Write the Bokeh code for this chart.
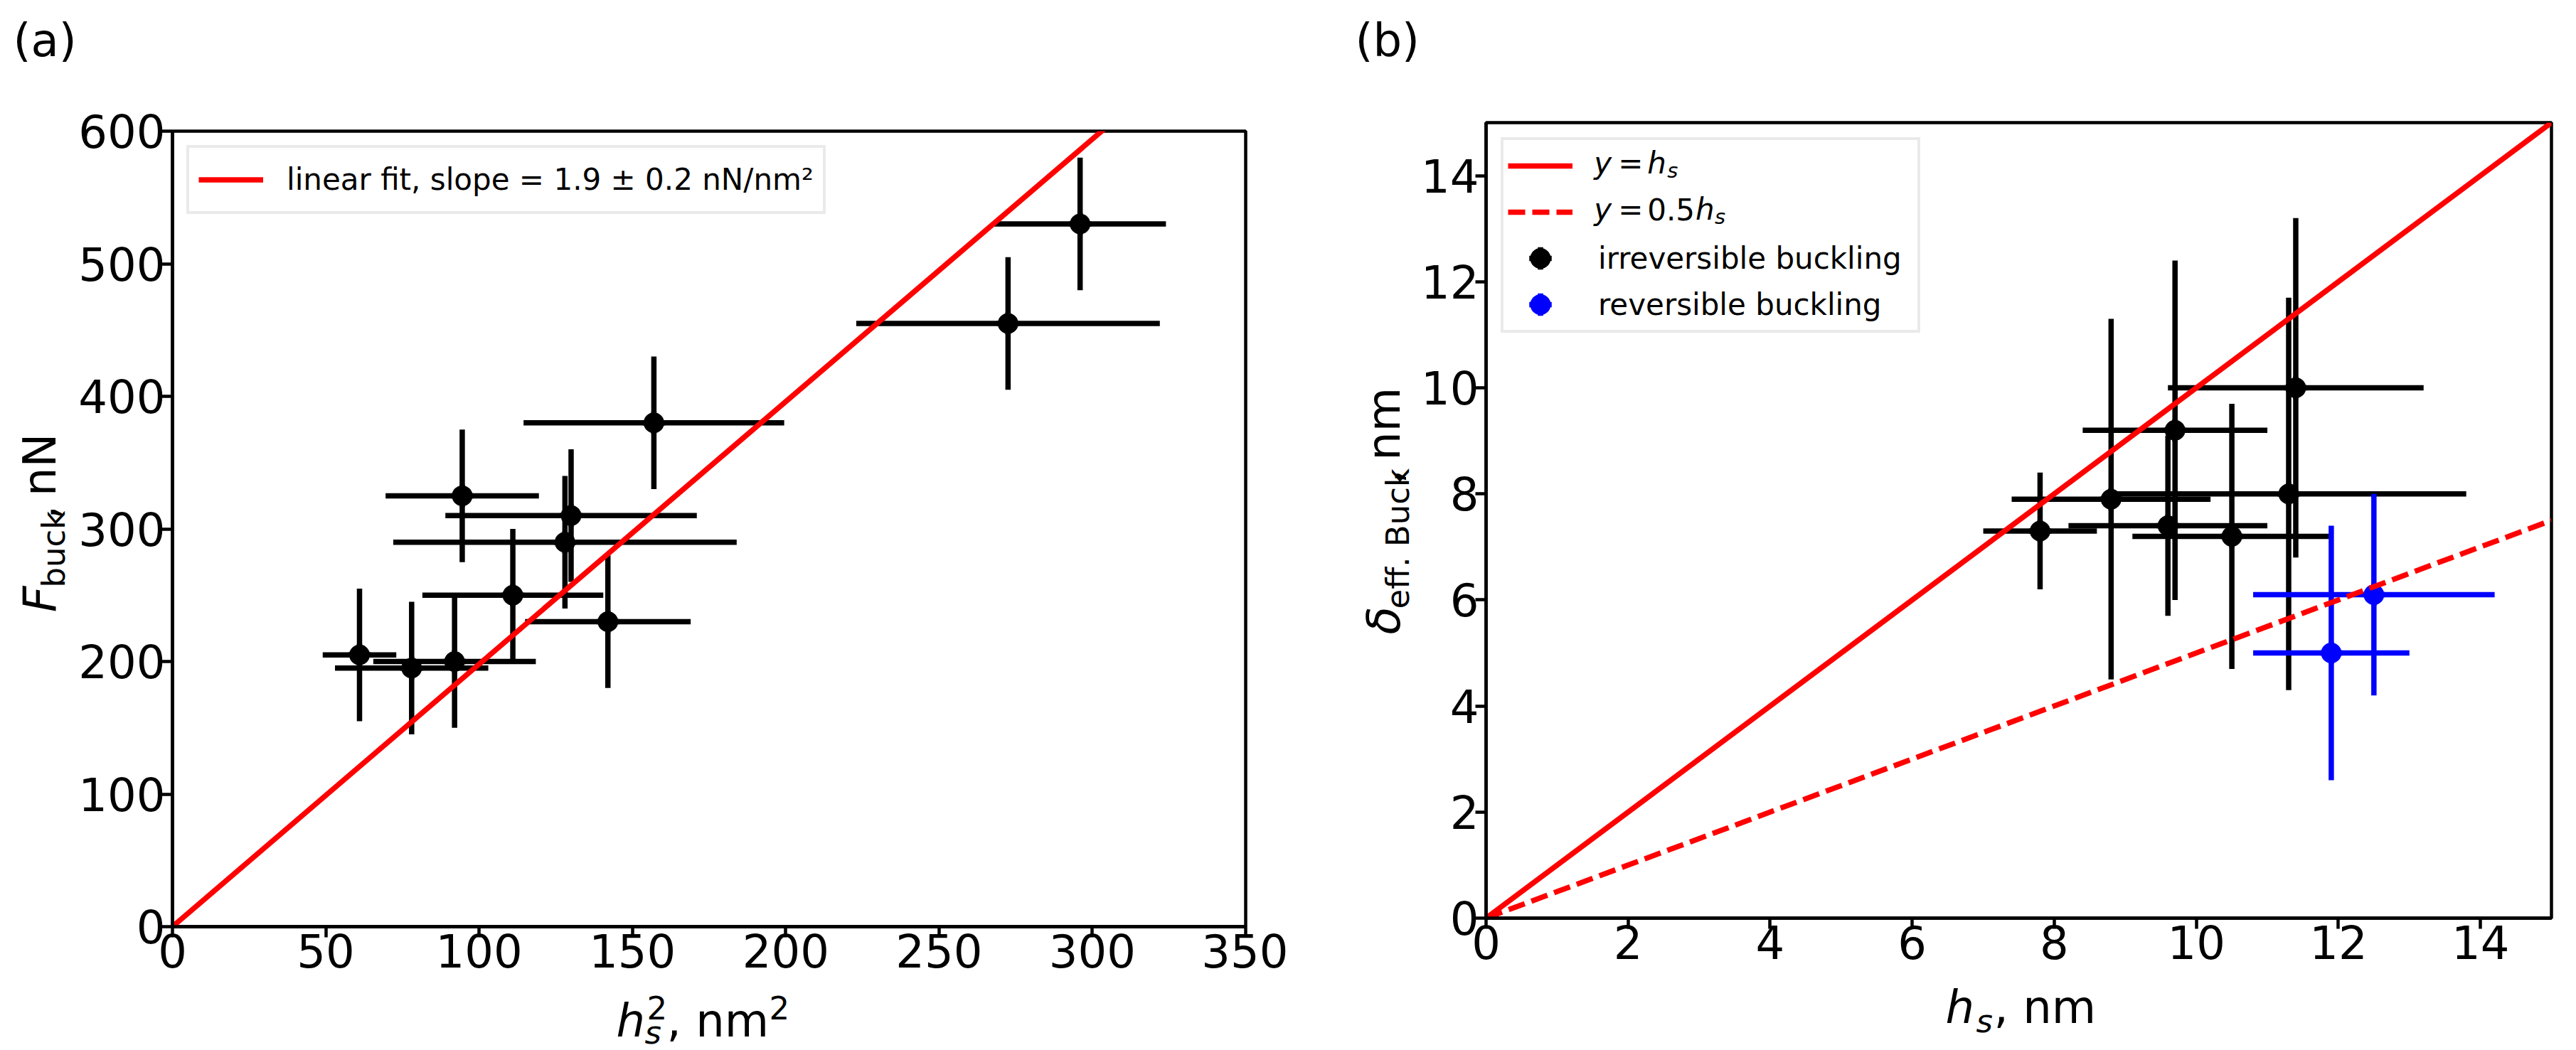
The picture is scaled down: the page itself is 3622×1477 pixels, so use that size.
import numpy as np
from bokeh.plotting import figure
from bokeh.models import Range1d, Legend, LegendItem
from bokeh.core.properties import value
from bokeh.layouts import row, column
from bokeh.embed import file_html
from bokeh.resources import INLINE

# ---------------- Panel (a) data ----------------
hs2 = [61, 78, 92, 111, 142, 128, 130, 94.5, 157, 272.5, 296]
hs2_err = [12, 25, 26.5, 29.5, 27, 56, 41, 25, 42.5, 49.5, 28]
f_buck = [205, 195, 200, 250, 230, 290, 310, 325, 380, 455, 530]
f_buck_err = [50, 50, 50, 50, 50, 50, 50, 50, 50, 50, 50]
fit_slope = 1.98
fit_x = [0, 350]
a_xticks = [0, 50, 100, 150, 200, 250, 300, 350]
a_yticks = [0, 100, 200, 300, 400, 500, 600]
a_legend = "linear fit, slope = 1.9 \u00b1 0.2 nN/nm\u00b2"

# ---------------- Panel (b) data ----------------
hs_irr = [7.8, 8.8, 9.6, 9.7, 10.5, 11.3, 11.4]
hs_irr_err = [0.8, 1.4, 1.4, 1.3, 1.4, 2.5, 1.8]
d_irr = [7.3, 7.9, 7.4, 9.2, 7.2, 8.0, 10.0]
d_irr_err = [1.1, 3.4, 1.7, 3.2, 2.5, 3.7, 3.2]
hs_rev = [11.9, 12.5]
hs_rev_err = [1.1, 1.7]
d_rev = [5.0, 6.1]
d_rev_err = [2.4, 1.9]
ref_x = [0, 15]
b_ticks = [0, 2, 4, 6, 8, 10, 12, 14]

FONT = "DejaVu Sans"
LW = 7.5
BASE_OFF = 0.30   # baseline correction of bokeh text glyphs (fraction of font size)


def make_fig(w, h, bl, br, bt, bb, xr, yr, xt, yt):
    p = figure(width=w, height=h, x_range=Range1d(*xr), y_range=Range1d(*yr),
               output_backend="svg", toolbar_location=None,
               min_border_left=bl, min_border_right=br,
               min_border_top=bt, min_border_bottom=bb)
    p.xgrid.visible = False
    p.ygrid.visible = False
    p.outline_line_color = "black"
    p.outline_line_width = 4.5
    p.outline_line_alpha = 1.0
    p.background_fill_color = "white"
    p.border_fill_color = "white"
    for ax in (p.xaxis[0], p.yaxis[0]):
        ax.axis_line_width = 4.5
        ax.axis_line_color = "black"
        ax.major_tick_line_width = 4.5
        ax.major_tick_line_color = "black"
        ax.major_tick_out = 15
        ax.major_tick_in = 0
        ax.minor_tick_line_color = None
        ax.major_label_text_font = FONT
        ax.major_label_text_font_size = "64px"
        ax.major_label_text_color = "black"
    p.xaxis[0].ticker = xt
    p.yaxis[0].ticker = yt
    p.xaxis[0].major_label_standoff = -5
    p.yaxis[0].major_label_standoff = -5
    return p


def strip(w, h):
    s = figure(width=w, height=h, x_range=Range1d(0, w), y_range=Range1d(0, h),
               output_backend="svg", toolbar_location=None,
               x_axis_location=None, y_axis_location=None,
               min_border=0, min_border_left=0, min_border_right=0,
               min_border_top=0, min_border_bottom=0)
    s.outline_line_color = None
    s.xgrid.visible = False
    s.ygrid.visible = False
    s.background_fill_color = "white"
    s.border_fill_color = "white"
    return s


def put(fig, ox, oy, px, py, txt, size, italic=False, rotated=False):
    # (px, py): page position of the start of the text's baseline
    # ox: page x of the strip's left edge, oy: page y of the strip's bottom edge
    if rotated:
        ax_, ay_ = px - BASE_OFF * size, py
        ang = np.pi / 2
    else:
        ax_, ay_ = px, py - BASE_OFF * size
        ang = 0.0
    fig.text(x=[ax_ - ox], y=[oy - ay_], text=[txt], angle=ang,
             text_font=value(FONT), text_font_size=value(f"{size}px"),
             text_font_style="italic" if italic else "normal",
             text_color="black", text_align="left", text_baseline="alphabetic")


def errorbars(p, x, xe, y, ye, color):
    x = np.array(x, dtype=float)
    xe = np.array(xe, dtype=float)
    y = np.array(y, dtype=float)
    ye = np.array(ye, dtype=float)
    p.segment(x0=x - xe, y0=y, x1=x + xe, y1=y, line_color=color, line_width=LW)
    p.segment(x0=x, y0=y - ye, x1=x, y1=y + ye, line_color=color, line_width=LW)
    cr = p.scatter(x, y, marker="cross", size=24, line_color=color,
                   line_width=LW, line_cap="square")
    dr = p.scatter(x, y, marker="circle", size=24, fill_color=color,
                   line_color=color, line_width=5)
    return cr, dr


TOP_H = 100

# ================= Panel (a) =================
WL_A = 104
YB_A = 1388
FLa, FBa = 242, 1303
main_a = make_fig(1811 - WL_A, YB_A - TOP_H, FLa - WL_A, 60, 184 - TOP_H, YB_A - FBa,
                  (0, 350), (0, 600), a_xticks, a_yticks)
errorbars(main_a, hs2, hs2_err, f_buck, f_buck_err, "black")
fit_r = main_a.line(fit_x, [fit_slope * v for v in fit_x], line_color="red", line_width=LW)

leg_a = Legend(items=[LegendItem(label=value(a_legend), renderers=[fit_r])],
               location="top_left", margin=20, padding=13, spacing=0,
               glyph_width=91, glyph_height=63, label_height=63,
               label_standoff=33, label_text_font=FONT,
               label_text_font_size="42px", label_text_color="black",
               border_line_color="#d6d6d6", border_line_width=4,
               background_fill_color="white", background_fill_alpha=1.0)
main_a.add_layout(leg_a)

top_a = strip(1811, TOP_H)
put(top_a, 0, TOP_H, 18, 76, "(a)", 64)

left_a = strip(WL_A, YB_A - TOP_H)
put(left_a, 0, YB_A, 75, 879, "F", 64, italic=True, rotated=True)
put(left_a, 0, YB_A, 88, 839, "buck", 45, rotated=True)
put(left_a, 0, YB_A, 75, 729, ",", 64, rotated=True)
put(left_a, 0, YB_A, 75, 691, "nN", 64, rotated=True)

bottom_a = strip(1811, 1477 - YB_A)
put(bottom_a, 0, 1477, 866, 1455, "h", 64, italic=True)
put(bottom_a, 0, 1477, 909, 1430, "2", 45)
put(bottom_a, 0, 1477, 906, 1465, "s", 45, italic=True)
put(bottom_a, 0, 1477, 937, 1455, ", nm", 64)
put(bottom_a, 0, 1477, 1081, 1430, "2", 45)

col_a = column(top_a, row(left_a, main_a), bottom_a)

# ================= Panel (b) =================
X0B = 1811
FLb, FBb = 2087, 1291
WL_B = FLb - 92 - X0B
YB_B = FBb + 85
main_b = make_fig(1811 - WL_B, YB_B - TOP_H, FLb - X0B - WL_B, 35, 172 - TOP_H, YB_B - FBb,
                  (0, 15), (0, 15), b_ticks, b_ticks)
cr_irr, dr_irr = errorbars(main_b, hs_irr, hs_irr_err, d_irr, d_irr_err, "black")
cr_rev, dr_rev = errorbars(main_b, hs_rev, hs_rev_err, d_rev, d_rev_err, "blue")
l1 = main_b.line(ref_x, ref_x, line_color="red", line_width=LW)
l2 = main_b.line(ref_x, [0.5 * v for v in ref_x], line_color="red", line_width=LW,
                 line_dash="24 10")

leg_b = Legend(items=[LegendItem(label=value(" "), renderers=[l1]),
                      LegendItem(label=value(" "), renderers=[l2]),
                      LegendItem(label=value("irreversible buckling"), renderers=[cr_irr, dr_irr]),
                      LegendItem(label=value("reversible buckling"), renderers=[cr_rev, dr_rev])],
               location="top_left", margin=21, padding=6, spacing=5,
               glyph_width=91, glyph_height=60, label_height=60, label_width=443,
               label_standoff=36, label_text_font=FONT,
               label_text_font_size="42px", label_text_color="black",
               border_line_color="#d6d6d6", border_line_width=4,
               background_fill_color="white", background_fill_alpha=0.0)
main_b.add_layout(leg_b)

# math legend labels (b), placed in the frame by pixel position
XS = 15.0 / 1500.0
YS = 15.0 / 1119.0


def put_b(px, py, txt, size, italic=False):
    ay_ = py - BASE_OFF * size
    main_b.text(x=[(px - FLb) * XS], y=[(FBb - ay_) * YS], text=[txt],
                text_font=value(FONT), text_font_size=value(f"{size}px"),
                text_font_style="italic" if italic else "normal",
                text_color="black", text_align="left", text_baseline="alphabetic")


r1, r2 = 242, 307
put_b(2239, r1, "y", 42, True)
put_b(2273, r1, "=", 42)
put_b(2314, r1, "h", 42, True)
put_b(2342, r1 + 6, "s", 29, True)
put_b(2239, r2, "y", 42, True)
put_b(2273, r2, "=", 42)
put_b(2314, r2, "0.5", 42)
put_b(2382, r2, "h", 42, True)
put_b(2409, r2 + 6, "s", 29, True)

top_b = strip(1811, TOP_H)
put(top_b, X0B, TOP_H, 1905, 76, "(b)", 64)

left_b = strip(WL_B, YB_B - TOP_H)
put(left_b, X0B, YB_B, 1965, 921, "\u03b4", 64, italic=True, rotated=True)
put(left_b, X0B, YB_B, 1978, 880, "eff. Buck", 45, rotated=True)
put(left_b, X0B, YB_B, 1965, 679, ",", 64, rotated=True)
put(left_b, X0B, YB_B, 1965, 642, "nm", 64, rotated=True)

bottom_b = strip(1811, 1477 - YB_B)
put(bottom_b, X0B, 1477, 2735, 1436, "h", 64, italic=True)
put(bottom_b, X0B, 1477, 2778, 1449, "s", 45, italic=True)
put(bottom_b, X0B, 1477, 2803, 1436, ", nm", 64)

col_b = column(top_b, row(left_b, main_b), bottom_b)

layout = row(col_a, col_b)
open("out.html", "w").write(file_html(layout, INLINE))
